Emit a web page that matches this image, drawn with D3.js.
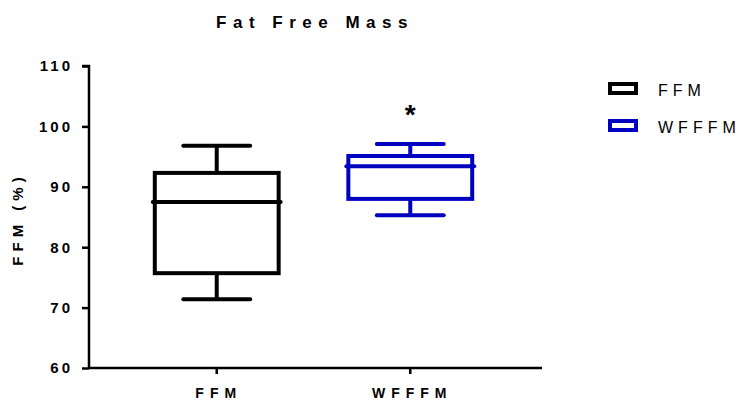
<!DOCTYPE html>
<html>
<head>
<meta charset="utf-8">
<script src="https://cdn.jsdelivr.net/npm/d3@7"></script>
<style>
  html, body { margin: 0; padding: 0; background: #fff; }
  svg { display: block; font-family: "Liberation Sans", Arial, sans-serif; }
</style>
</head>
<body>
<svg id="chart" width="741" height="403"></svg>
<script>
// Group names and colours
const groups = ["FFM", "WFFFM"];
const colors = ["#000000", "#0000c0"];
// Five-number summaries (% fat free mass)
const whiskerLow  = [71.4, 85.3];
const quartile1   = [75.7, 88.0];
const medians     = [87.5, 93.4];
const quartile3   = [92.3, 95.1];
const whiskerHigh = [96.8, 97.1];
// Significance marks shown above each group
const markers = ["", "*"];
// Y axis ticks
const yTicks = [60, 70, 80, 90, 100, 110];

const svg = d3.select("#chart");
const W = 741, H = 403;
const plot = { left: 89, right: 542, top: 66, bottom: 368 };

const y = d3.scaleLinear().domain([60, 110]).range([plot.bottom, plot.top]);
const x = d3.scaleBand().domain(groups).range([plot.left, 538]).paddingInner(0.36).paddingOuter(0.34);

const strokeW = 4;

// Title
svg.append("text")
  .attr("x", 315).attr("y", 28)
  .attr("text-anchor", "middle")
  .style("font-size", "17px").style("font-weight", "bold")
  .style("letter-spacing", "6.5px")
  .text("Fat Free Mass");

// Y axis
const yAxis = svg.append("g")
  .attr("transform", `translate(${plot.left},0)`)
  .call(d3.axisLeft(y).tickValues(yTicks).tickSize(7).tickPadding(9));
yAxis.select(".domain").attr("stroke-width", 2.5).attr("d", `M-7,${y(110)}H0V${y(60)}`);
yAxis.selectAll(".tick line").attr("stroke-width", 2.5);
yAxis.selectAll(".tick text")
  .style("font-size", "15px").style("font-weight", "bold").style("letter-spacing", "3px")
  .attr("fill", "#000");

// X axis
const xAxis = svg.append("g")
  .attr("transform", `translate(0,${y(60)})`)
  .call(d3.axisBottom(x).tickSize(6).tickPadding(14));
xAxis.select(".domain").attr("stroke-width", 2.5).attr("d", `M${plot.left},0H${plot.right}`);
xAxis.selectAll(".tick line").attr("stroke-width", 2.5);
xAxis.selectAll(".tick text")
  .attr("dx", "2px")
  .style("font-size", "14px").style("font-weight", "bold").style("letter-spacing", "6px")
  .attr("fill", "#000");

// Y axis title
svg.append("text")
  .attr("transform", `translate(23,${(y(60) + y(110)) / 2 + 2}) rotate(-90)`)
  .attr("text-anchor", "middle")
  .style("font-size", "15px").style("font-weight", "bold").style("letter-spacing", "5px")
  .text("FFM (%)");

// Box plots
const boxes = svg.append("g");
groups.forEach((g, i) => {
  const cx = x(g) + x.bandwidth() / 2;
  const bw = x.bandwidth();
  const capW = bw * 0.54;
  const grp = boxes.append("g")
    .attr("stroke", colors[i]).attr("stroke-width", strokeW).attr("fill", "none");
  // whiskers
  grp.append("line").attr("x1", cx).attr("x2", cx).attr("y1", y(whiskerHigh[i])).attr("y2", y(quartile3[i]));
  grp.append("line").attr("x1", cx).attr("x2", cx).attr("y1", y(whiskerLow[i])).attr("y2", y(quartile1[i]));
  // caps
  grp.append("line").attr("x1", cx - capW / 2).attr("x2", cx + capW / 2)
    .attr("y1", y(whiskerHigh[i])).attr("y2", y(whiskerHigh[i])).attr("stroke-linecap", "round");
  grp.append("line").attr("x1", cx - capW / 2).attr("x2", cx + capW / 2)
    .attr("y1", y(whiskerLow[i])).attr("y2", y(whiskerLow[i])).attr("stroke-linecap", "round");
  // box
  grp.append("rect")
    .attr("x", x(g)).attr("width", bw)
    .attr("y", y(quartile3[i])).attr("height", y(quartile1[i]) - y(quartile3[i]));
  // median
  grp.append("line").attr("x1", x(g) - 2).attr("x2", x(g) + bw + 2)
    .attr("y1", y(medians[i])).attr("y2", y(medians[i])).attr("stroke-linecap", "round");
  // significance marker
  if (markers[i]) {
    svg.append("text")
      .attr("x", cx).attr("y", y(whiskerHigh[i]) - 20)
      .attr("text-anchor", "middle")
      .style("font-size", "28px").style("font-weight", "bold")
      .text(markers[i]);
  }
});

// Legend
const legend = svg.append("g").attr("transform", "translate(608,82)");
groups.forEach((g, i) => {
  const row = legend.append("g").attr("transform", `translate(0,${i * 37})`);
  row.append("rect").attr("x", 2).attr("y", 2).attr("width", 26).attr("height", 9)
    .attr("fill", "none").attr("stroke", colors[i]).attr("stroke-width", 4);
  row.append("text").attr("x", 50).attr("y", 14)
    .style("font-size", "16px").style("letter-spacing", "5px")
    .text(g);
});
</script>
</body>
</html>
